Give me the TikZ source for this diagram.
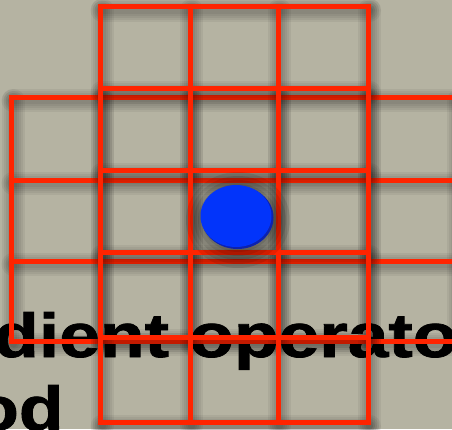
\documentclass[tikz,border=0pt]{standalone}
\usepackage{fontspec}
\usepackage{graphicx}
\setmainfont{Liberation Sans}[BoldFeatures={FakeBold=1.2}]
\definecolor{bg}{RGB}{181,179,162}
\definecolor{gridred}{RGB}{255,36,0}
\definecolor{dotblue}{RGB}{2,52,250}
\definecolor{dotrim}{RGB}{12,34,175}
\tikzset{
  redline/.style={draw=gridred, line width=5pt, line cap=rect},
  shadowline/.style={draw=black, line cap=round, opacity=0.05},
  bigtext/.style={anchor=base west, inner sep=0pt, font=\fontsize{62}{72}\selectfont\bfseries},
}
\begin{document}
\begin{tikzpicture}[x=1pt,y=-1pt]
\useasboundingbox (0,0) rectangle (452,429);
\fill[bg] (0,0) rectangle (452,429);
% text
\node[bigtext] (line1) at (-6,357) {\scalebox{1.18}[1]{dient operato}};
\node[bigtext] (line2) at (-26,430) {\scalebox{1.18}[1]{od}};
% wide grid: shadow
\foreach \w in {7,11,15,19,23}{
  \begin{scope}[shift={(1.5,3)}]
  \foreach \y in {97.5,180,261,341} \draw[shadowline, line width=\w pt] (11.5,\y) -- (457,\y);
  \foreach \x in {11.5,100.5,190,278,368,457} \draw[shadowline, line width=\w pt] (\x,97.5) -- (\x,341);
  \end{scope}
}
% wide grid: lines
\foreach \y in {97.5,180,261,341} \draw[redline] (11.5,\y) -- (457,\y);
\foreach \x in {11.5,100.5,190,278,368,457} \draw[redline] (\x,97.5) -- (\x,341);
% tall grid: shadow
\foreach \w in {7,11,15,19,23}{
  \begin{scope}[shift={(1.5,3.5)}]
  \foreach \y in {6.5,88.5,170.5,252.5,337,422.5} \draw[shadowline, line width=\w pt] (100.5,\y) -- (368,\y);
  \foreach \x in {100.5,190,278,368} \draw[shadowline, line width=\w pt] (\x,6.5) -- (\x,422.5);
  \end{scope}
}
% tall grid: lines
\foreach \y in {6.5,88.5,170.5,252.5,337,422.5} \draw[redline] (100.5,\y) -- (368,\y);
\foreach \x in {100.5,190,278,368} \draw[redline] (\x,6.5) -- (\x,422.5);
% dot: shadow
\foreach \r in {0,4,8,12,16}{
  \fill[black, opacity=0.09] (238,220) ellipse ({36+\r} and {32+\r});
}
% dot
\fill[dotrim] (237.5,217.5) ellipse (36 and 31.5);
\fill[dotblue] (236,216) ellipse (35.5 and 31);
\end{tikzpicture}
\end{document}
